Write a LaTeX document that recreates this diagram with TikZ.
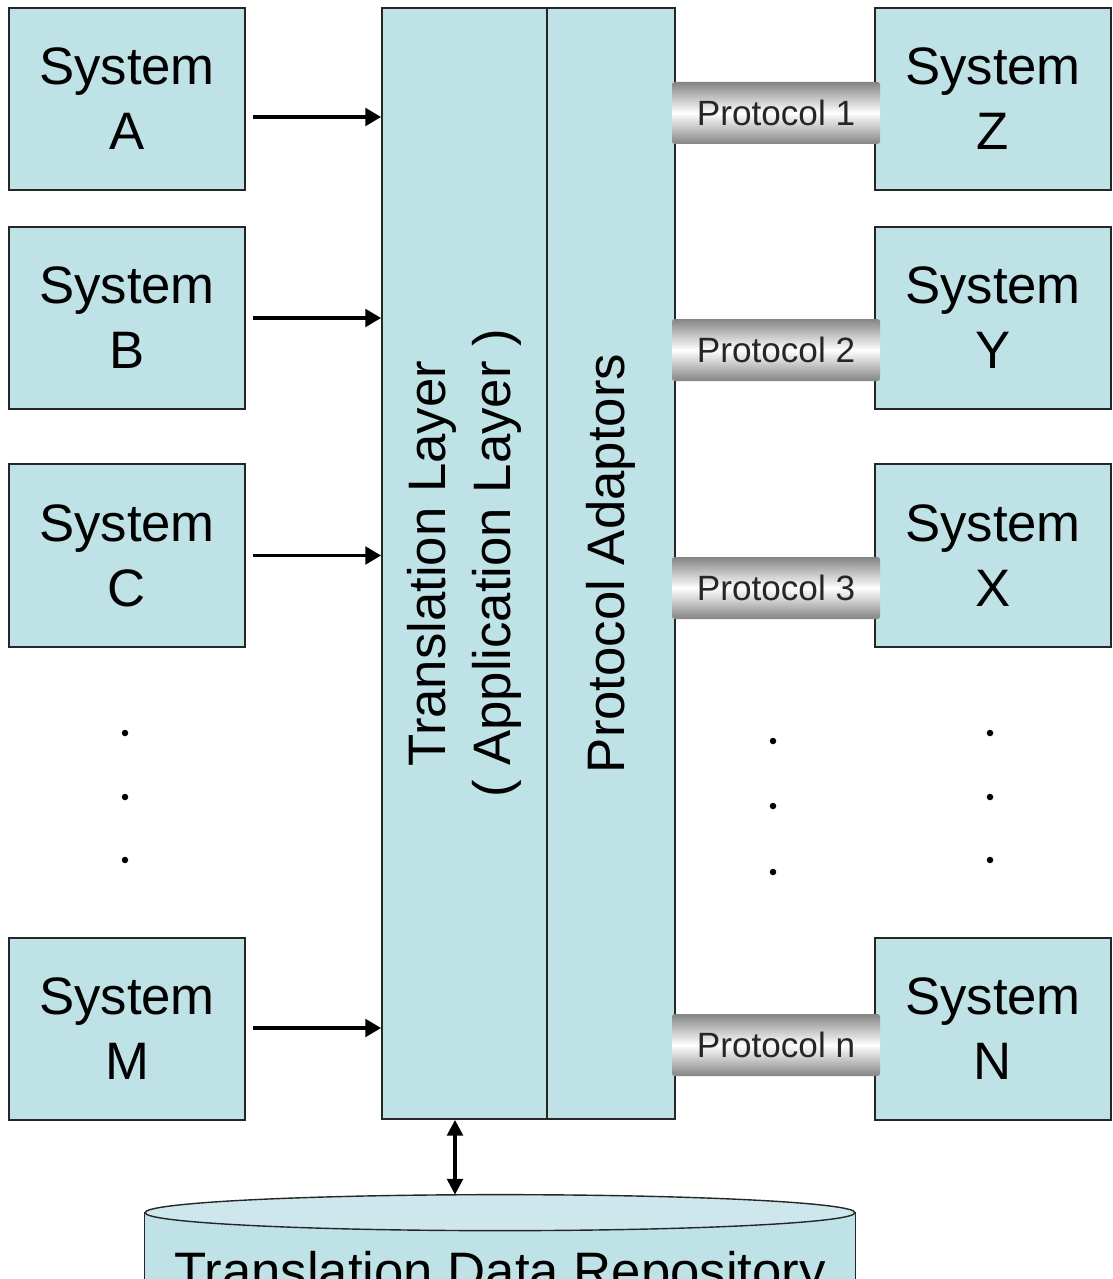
\documentclass[tikz,border=0pt]{standalone}
\usepackage{fontspec}
\setmainfont{Liberation Sans}
\usepackage{graphicx}
\usepackage{tikz}
\usetikzlibrary{arrows.meta}

\definecolor{sysfill}{RGB}{190,226,229}
\definecolor{capfill}{RGB}{206,231,237}

\begin{document}
\begin{tikzpicture}[font=\fontsize{30}{37}\selectfont,
  sys/.style={draw=black!85, line width=1pt, fill=sysfill, align=center,
              minimum width=4.72cm, minimum height=3.65cm, inner sep=0pt},
  layer/.style={draw=black!85, line width=1pt, fill=sysfill, inner sep=0pt,
                minimum height=22.22cm},
  pipe/.style={shading=axis, top color=black!48, bottom color=black!48,
               middle color=white, rounded corners=1.5pt, inner sep=0pt,
               minimum width=4.16cm, minimum height=1.24cm, text=black!85,
               font=\fontsize{20}{24}\selectfont},
  repo/.style={fill=sysfill, inner sep=0pt, minimum width=14.2cm,
               minimum height=2.52cm},
  arr/.style={-{Triangle[length=9pt, width=10pt]}, line width=2pt},
  dbl/.style={{Triangle[length=9pt, width=9pt]}-{Triangle[length=9pt, width=9pt]},
              line width=1.8pt}]

\useasboundingbox (0,0) rectangle (22.24,-25.58);

% left side: systems feeding the translation layer
\node[sys] (sysA) at (2.54, -1.98)  {System\\A};
\node[sys] (sysB) at (2.54, -6.36)  {System\\B};
\node[sys] (sysC) at (2.54, -11.11) {System\\C};
\node[sys] (sysM) at (2.54, -20.58) {System\\M};

% middle column: two layers side by side
\node[layer, minimum width=3.3cm] (trans) at (9.29, -11.27)
  {\rotatebox{90}{\begin{tabular}{@{}c@{}}Translation Layer\\( Application Layer )\end{tabular}}};
\node[layer, minimum width=2.56cm] (adapt) at (12.22, -11.27)
  {\rotatebox{90}{Protocol Adaptors}};

% right side: systems behind the protocols
\node[sys] (sysZ) at (19.86, -1.98)  {System\\Z};
\node[sys] (sysY) at (19.86, -6.36)  {System\\Y};
\node[sys] (sysX) at (19.86, -11.11) {System\\X};
\node[sys] (sysN) at (19.86, -20.58) {System\\N};

% protocol pipes over the box edges
\node[pipe] (p1) at (15.52, -2.26)  {Protocol 1};
\node[pipe] (p2) at (15.52, -7.0)   {Protocol 2};
\node[pipe] (p3) at (15.52, -11.76) {Protocol 3};
\node[pipe] (pn) at (15.52, -20.9)  {Protocol n};

% inputs into the translation layer
\draw[arr, shorten <=4pt] ([yshift=-0.36cm]sysA.east) -- ([yshift=-0.36cm]sysA.east -| trans.west);
\draw[arr, shorten <=4pt] (sysB.east) -- (sysB.east -| trans.west);
\draw[arr, shorten <=4pt] (sysC.east) -- (sysC.east -| trans.west);
\draw[arr, shorten <=4pt] ([yshift=0.02cm]sysM.east) -- ([yshift=0.02cm]sysM.east -| trans.west);

% repository cylinder, cut by the page edge
\node[repo] (repo) at (10, -25.52) {Translation Data Repository};
\draw[black!85, line width=0.8pt] (repo.north west) -- (repo.south west)
  (repo.north east) -- (repo.south east);
\draw[black!85, line width=0.8pt, fill=capfill] (repo.north) ellipse[x radius=7.1cm, y radius=0.36cm];
\coordinate (repotop) at ([yshift=0.36cm]repo.north);
\draw[dbl] ([xshift=-0.19cm]trans.south) -- ([xshift=-0.19cm]trans.south |- repotop);

% continuation dots
\foreach \y in {-14.66, -15.94, -17.2} {
  \fill (2.5, \y) circle (0.065);
  \fill (19.8, \y) circle (0.065);
}
\foreach \y in {-14.82, -16.12, -17.44}
  \fill (15.46, \y) circle (0.065);
\end{tikzpicture}
\end{document}
